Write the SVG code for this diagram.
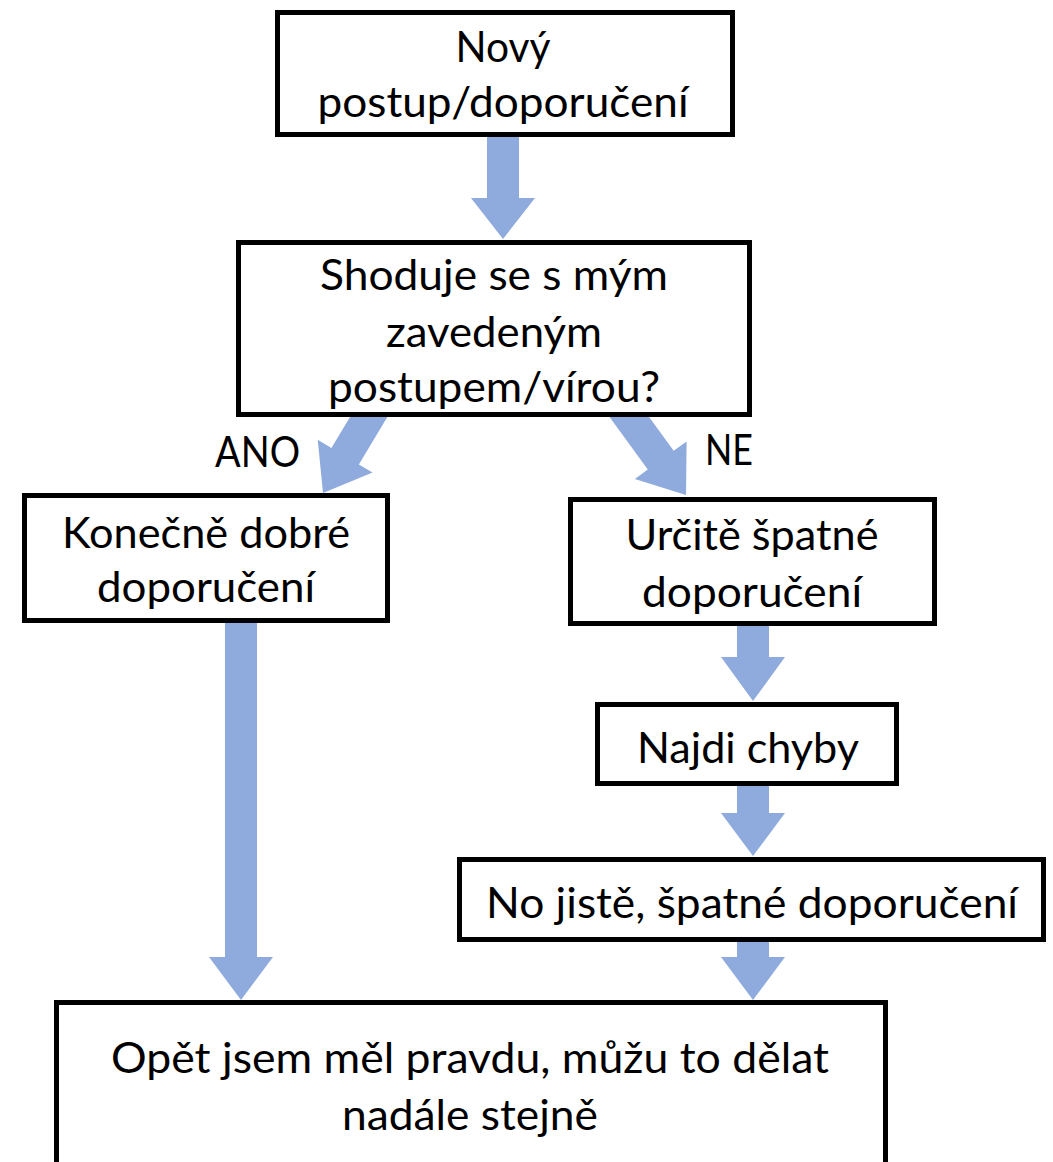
<svg xmlns="http://www.w3.org/2000/svg" width="1053" height="1162" viewBox="0 0 1053 1162">
<style>
.box{fill:#fff;stroke:#000;stroke-width:5}
.arr{fill:#8FAADC}
text{font-family:Lato,"Liberation Sans",sans-serif;font-size:43px;fill:#000;text-anchor:middle}
</style>
<defs>
<polygon id="diag" points="0,0 -32,-43 -16,-43 -16,-130 16,-130 16,-43 32,-43"/>
</defs>
<rect width="1053" height="1162" fill="#fff"/>
<g id="connectors">
<polygon class="arr" points="487,130 519,130 519,198 535,198 503,239 471,198 487,198"/>
<use href="#diag" class="arr" transform="translate(323,493) rotate(31)"/>
<use href="#diag" class="arr" transform="translate(686,495) rotate(-36)"/>
<polygon class="arr" points="225,615 257,615 257,957 273,957 241,1000 209,957 225,957"/>
<polygon class="arr" points="737,618 769,618 769,657 785,657 753,701 721,657 737,657"/>
<polygon class="arr" points="737,780 769,780 769,813 785,813 753,856 721,813 737,813"/>
<polygon class="arr" points="737,935 769,935 769,957 785,957 753,1000 721,957 737,957"/>
</g>
<g id="n1">
<rect class="box" x="277.5" y="12.5" width="455" height="122"/>
<text x="503" y="62" textLength="95" lengthAdjust="spacingAndGlyphs">Nový</text>
<text x="503" y="117" textLength="371" lengthAdjust="spacingAndGlyphs">postup/doporučení</text>
</g>
<g id="n2">
<rect class="box" x="238.5" y="242.5" width="511" height="172"/>
<text x="494" y="290" textLength="348" lengthAdjust="spacingAndGlyphs">Shoduje se s mým</text>
<text x="494" y="347" textLength="216" lengthAdjust="spacingAndGlyphs">zavedeným</text>
<text x="494" y="402" textLength="332" lengthAdjust="spacingAndGlyphs">postupem/vírou?</text>
</g>
<g id="labels">
<text x="257.5" y="467" textLength="85" lengthAdjust="spacingAndGlyphs">ANO</text>
<text x="729" y="465" textLength="48" lengthAdjust="spacingAndGlyphs">NE</text>
</g>
<g id="n3">
<rect class="box" x="24.5" y="495.5" width="363" height="125"/>
<text x="206" y="548" textLength="288" lengthAdjust="spacingAndGlyphs">Konečně dobré</text>
<text x="206" y="602" textLength="218" lengthAdjust="spacingAndGlyphs">doporučení</text>
</g>
<g id="n4">
<rect class="box" x="570.5" y="499.5" width="364" height="124"/>
<text x="752" y="550" textLength="253" lengthAdjust="spacingAndGlyphs">Určitě špatné</text>
<text x="752" y="607" textLength="220" lengthAdjust="spacingAndGlyphs">doporučení</text>
</g>
<g id="n5">
<rect class="box" x="597.5" y="704.5" width="299" height="79"/>
<text x="748" y="763" textLength="222" lengthAdjust="spacingAndGlyphs">Najdi chyby</text>
</g>
<g id="n6">
<rect class="box" x="459.5" y="859.5" width="584" height="80"/>
<text x="752" y="918" textLength="532" lengthAdjust="spacingAndGlyphs">No jistě, špatné doporučení</text>
</g>
<g id="n7">
<rect class="box" x="56.5" y="1002.5" width="829" height="300"/>
<text x="470" y="1073" textLength="718" lengthAdjust="spacingAndGlyphs">Opět jsem měl pravdu, můžu to dělat</text>
<text x="470" y="1130" textLength="256" lengthAdjust="spacingAndGlyphs">nadále stejně</text>
</g>
</svg>
